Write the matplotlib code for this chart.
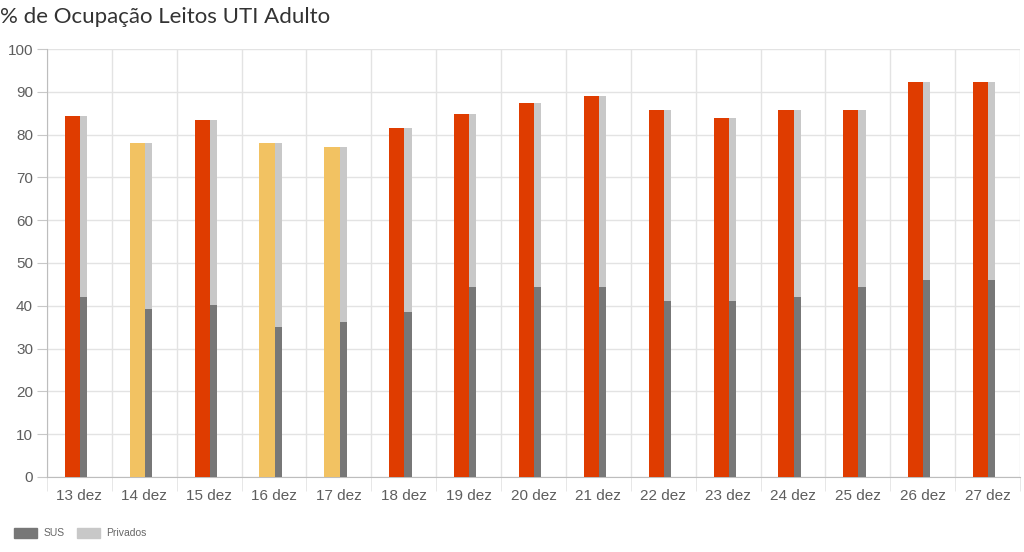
import matplotlib
matplotlib.use("Agg")
import matplotlib.pyplot as plt
from matplotlib.patches import Patch
import numpy as np

categories = ["13 dez", "14 dez", "15 dez", "16 dez", "17 dez", "18 dez", "19 dez", "20 dez",
              "21 dez", "22 dez", "23 dez", "24 dez", "25 dez", "26 dez", "27 dez"]
total = [84.4, 78.0, 83.4, 78.0, 77.1, 81.5, 84.8, 87.4, 89.0, 85.7, 83.9, 85.7, 85.7, 92.4, 92.4]
sus = [42.1, 39.3, 40.3, 35.0, 36.2, 38.6, 44.4, 44.4, 44.4, 41.1, 41.1, 42.0, 44.4, 46.0, 46.0]
privados = [t - s for t, s in zip(total, sus)]
level = ["high", "mid", "high", "mid", "mid", "high", "high", "high", "high", "high",
         "high", "high", "high", "high", "high"]
level_colors = {"high": "#DF3C00", "mid": "#F2C262"}

fig = plt.figure(figsize=(10.24, 5.52), dpi=100)
ax = fig.add_axes([47/1024, 75/552, 973/1024, 428/552])

x = np.arange(len(categories))
ax.bar(x - 0.225, total, width=0.235, align="edge",
       color=[level_colors[l] for l in level], zorder=3)
ax.bar(x + 0.01, sus, width=0.11, align="edge", color="#777777", zorder=3)
ax.bar(x + 0.01, privados, width=0.11, align="edge", bottom=sus, color="#C8C8C8", zorder=3)

ax.set_xlim(-0.5, len(categories) - 0.5)
ax.set_ylim(0, 100)
ax.set_yticks(range(0, 101, 10))
ax.set_xticks(x)
ax.set_xticklabels(categories)
ax.set_xticks(np.arange(-0.5, len(categories), 1), minor=True)

ax.grid(True, axis="y", color="#E3E3E3", linewidth=1, zorder=0)
ax.grid(True, axis="x", which="minor", color="#E3E3E3", linewidth=1, zorder=0)
ax.tick_params(axis="x", which="major", length=0, pad=9, labelsize=11, labelcolor="#5E5E5E")
ax.tick_params(axis="x", which="minor", length=10, color="#E3E3E3")
ax.tick_params(axis="y", length=7, color="#C8C8C8", pad=3, labelsize=11, labelcolor="#5E5E5E")
for lab in ax.get_xticklabels() + ax.get_yticklabels():
    lab.set_fontfamily("Liberation Sans")

for s in ["top", "right"]:
    ax.spines[s].set_visible(False)
ax.spines["left"].set_color("#BDBDBD")
ax.spines["bottom"].set_color("#BDBDBD")

fig.text(0.0, 0.97, "% de Ocupação Leitos UTI Adulto", fontsize=16, fontfamily="Lato",
         color="#333333", ha="left", va="center")

handles = [Patch(color="#777777", label="SUS"), Patch(color="#C8C8C8", label="Privados")]
leg = fig.legend(handles=handles, loc="lower left", bbox_to_anchor=(0.005, 0.008), ncol=2,
                 frameon=False, fontsize=7.5, handlelength=2.2, handleheight=1.1,
                 columnspacing=1.2, handletextpad=0.6)
for t in leg.get_texts():
    t.set_color("#666666")
    t.set_fontfamily("Liberation Sans")

fig.savefig("out.png", dpi=100)
